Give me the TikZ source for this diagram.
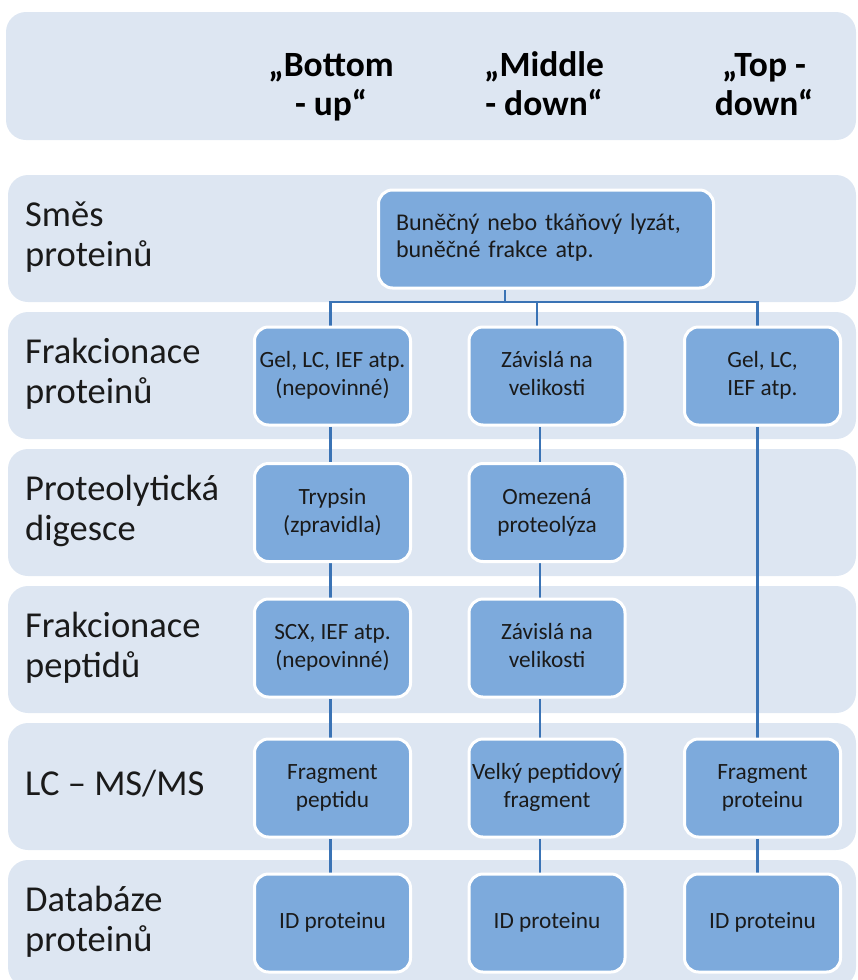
\documentclass[tikz,border=0pt]{standalone}
\usepackage{fontspec}
\setmainfont{Carlito}
\pgfdeclarelayer{bg}
\pgfdeclarelayer{lines}
\pgfsetlayers{bg,lines,main}
\definecolor{bandfill}{HTML}{DDE6F2}
\definecolor{boxfill}{HTML}{7DAADC}
\definecolor{linecol}{HTML}{3A73B5}
\definecolor{txt}{HTML}{1A1A1A}
\begin{document}
\begin{tikzpicture}[x=1pt,y=-1pt,
  band/.style={fill=bandfill, draw=none, rounded corners=20pt},
  stage/.style={fill=boxfill, draw=white, line width=3pt, rounded corners=14pt,
    minimum width=156pt, minimum height=98pt, inner sep=0pt, align=center,
    text=txt, font=\fontsize{23.3}{28}\selectfont},
  rowlabel/.style={anchor=west, align=left, inner sep=0pt, text=txt,
    font=\fontsize{36.5}{40}\selectfont},
  head/.style={align=center, inner sep=0pt, text=black,
    font=\bfseries\fontsize{35.5}{39}\selectfont},
  conn/.style={draw=linecol, line width=2.6pt}]
\useasboundingbox (0,0) rectangle (858,980);
\clip (0,0) rectangle (858,980);

% bands
\begin{pgfonlayer}{bg}
\fill[band] (6,12) rectangle (856,140);
\foreach \t in {175,312,449,586,723,860}
  \fill[band] (8,\t) rectangle (856,\t+127);
\end{pgfonlayer}

% header
\node[head] (hB) at (331,88) {\strut„Bottom\\\strut- up“};
\node[head] (hM) at (544,88) {\strut„Middle\\\strut- down“};
\node[head] (hT) at (764,88) {\strut„Top -\\\strut down“};

% row labels
\node[rowlabel] (l1) at (25,238) {\strut Směs\\\strut proteinů};
\node[rowlabel] (l2) at (25,375) {\strut Frakcionace\\\strut proteinů};
\node[rowlabel] (l3) at (25,512) {\strut Proteolytická\\\strut digesce};
\node[rowlabel] (l4) at (25,649) {\strut Frakcionace\\\strut peptidů};
\node[rowlabel] (l5) at (25,787) {\strut LC – MS/MS};
\node[rowlabel] (l6) at (25,923) {\strut Databáze\\\strut proteinů};

% boxes
\node[stage, minimum width=335pt, text width=300pt, align=left,
  font=\fontsize{24}{27}\selectfont] (mix) at (546,239)
  {\strut Buněčný nebo tkáňový lyzát,\\\strut buněčné frakce atp.};

\node[stage] (b12) at (332.5,376) {\strut Gel, LC, IEF atp.\\\strut (nepovinné)};
\node[stage] (b22) at (547,376) {\strut Závislá na\\\strut velikosti};
\node[stage] (b32) at (762.5,376) {\strut Gel, LC,\\\strut IEF atp.};

\node[stage] (b13) at (332.5,512.5) {\strut Trypsin\\\strut (zpravidla)};
\node[stage] (b23) at (547,512.5) {\strut Omezená\\\strut proteolýza};

\node[stage] (b14) at (332.5,648) {\strut SCX, IEF atp.\\\strut (nepovinné)};
\node[stage] (b24) at (547,648) {\strut Závislá na\\\strut velikosti};

\node[stage] (b15) at (332.5,788) {\strut Fragment\\\strut peptidu};
\node[stage] (b25) at (547,788) {\strut Velký peptidový\\\strut fragment};
\node[stage] (b35) at (762.5,788) {\strut Fragment\\\strut proteinu};

\node[stage] (b16) at (332.5,923) {\strut ID proteinu};
\node[stage] (b26) at (547,923) {\strut ID proteinu};
\node[stage] (b36) at (762.5,923) {\strut ID proteinu};

% connectors
\begin{pgfonlayer}{lines}
\coordinate (stem) at ([xshift=-41pt]mix.south);
\coordinate (busL) at (330.5,302);
\coordinate (busR) at (757.5,302);
\draw[conn] (stem) -- (stem |- busL);
\draw[conn] ([xshift=-1.3pt]busL) -- ([xshift=1.3pt]busR);
\draw[conn] (busL) -- ([xshift=-2pt]b12.north);
\draw[conn] ([xshift=-10pt]b22.north |- busL) -- ([xshift=-10pt]b22.north);
\draw[conn] (busR) -- ([xshift=-5pt]b32.north);
\foreach \a/\b in {b12/b13,b13/b14,b14/b15,b15/b16}
  \draw[conn] ([xshift=-2pt]\a.south) -- ([xshift=-2pt]\b.north);
\foreach \a/\b in {b22/b23,b23/b24,b24/b25,b25/b26}
  \draw[conn] ([xshift=-7pt]\a.south) -- ([xshift=-7pt]\b.north);
\foreach \a/\b in {b32/b35,b35/b36}
  \draw[conn] ([xshift=-5pt]\a.south) -- ([xshift=-5pt]\b.north);
\end{pgfonlayer}
\end{tikzpicture}
\end{document}
